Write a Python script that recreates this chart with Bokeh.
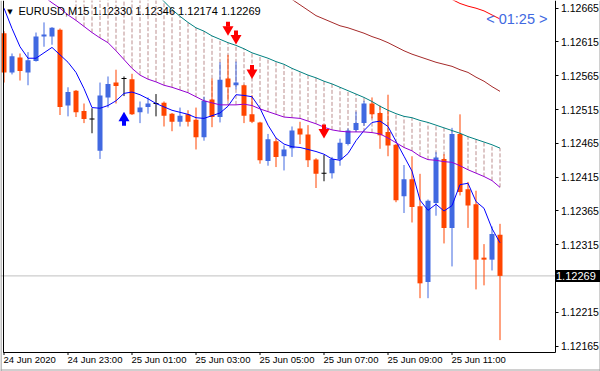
from bokeh.plotting import figure
from bokeh.models import (ColumnDataSource, FixedTicker, PrintfTickFormatter, Range1d,
                          Label, LabelSet, Span, LinearAxis)
from bokeh.core.properties import value
from bokeh.embed import file_html
from bokeh.resources import INLINE

# ---------------- data (EURUSD M15) ----------------
tick_bars = [0, 8, 16, 24, 32, 40, 48, 56]
tick_labels = ["24 Jun 2020", "24 Jun 23:00", "25 Jun 01:00", "25 Jun 03:00",
               "25 Jun 05:00", "25 Jun 07:00", "25 Jun 09:00", "25 Jun 11:00"]
price_ticks = [1.12165, 1.12215, 1.12315, 1.12365, 1.12415,
               1.12465, 1.12515, 1.12565, 1.12615, 1.12665]

open_ = [1.12628, 1.12570, 1.12592, 1.12570, 1.12587, 1.12623, 1.12623, 1.12633, 1.12521, 1.12543,
         1.12513, 1.12501, 1.12454, 1.12533, 1.12555, 1.12561, 1.12560, 1.12511, 1.12519, 1.12524,
         1.12525, 1.12509, 1.12497, 1.12508, 1.12500, 1.12474, 1.12530, 1.12504, 1.12561, 1.12551,
         1.12551, 1.12508, 1.12496, 1.12439, 1.12468, 1.12446, 1.12458, 1.12487, 1.12478, 1.12441,
         1.12421, 1.12421, 1.12441, 1.12464, 1.12485, 1.12495, 1.12524, 1.12510, 1.12482, 1.12463,
         1.12387, 1.12412, 1.12372, 1.12260, 1.12377, 1.12442, 1.12340, 1.12479, 1.12397, 1.12375,
         1.12296, 1.12293, 1.12330]
high = [1.12631, 1.12598, 1.12598, 1.12600, 1.12629, 1.12644, 1.12637, 1.12635, 1.12548, 1.12544,
        1.12524, 1.12517, 1.12555, 1.12564, 1.12574, 1.12564, 1.12568, 1.12527, 1.12533, 1.12538,
        1.12527, 1.12510, 1.12518, 1.12514, 1.12518, 1.12534, 1.12561, 1.12585, 1.12596, 1.12586,
        1.12552, 1.12536, 1.12497, 1.12479, 1.12473, 1.12462, 1.12490, 1.12497, 1.12492, 1.12443,
        1.12448, 1.12445, 1.12472, 1.12487, 1.12512, 1.12528, 1.12533, 1.12521, 1.12537, 1.12464,
        1.12433, 1.12446, 1.12420, 1.12382, 1.12452, 1.12449, 1.12488, 1.12508, 1.12408, 1.12395,
        1.12316, 1.12342, 1.12346]
low = [1.12555, 1.12567, 1.12558, 1.12551, 1.12586, 1.12608, 1.12611, 1.12507, 1.12505, 1.12504,
       1.12495, 1.12480, 1.12442, 1.12518, 1.12524, 1.12535, 1.12507, 1.12495, 1.12509, 1.12505,
       1.12490, 1.12483, 1.12490, 1.12490, 1.12456, 1.12469, 1.12489, 1.12496, 1.12528, 1.12545,
       1.12495, 1.12495, 1.12435, 1.12432, 1.12430, 1.12425, 1.12445, 1.12464, 1.12430, 1.12399,
       1.12409, 1.12413, 1.12432, 1.12462, 1.12482, 1.12491, 1.12502, 1.12457, 1.12446, 1.12378,
       1.12362, 1.12348, 1.12236, 1.12236, 1.12358, 1.12317, 1.12283, 1.12388, 1.12340, 1.12249,
       1.12255, 1.12277, 1.12174]
close = [1.12570, 1.12594, 1.12572, 1.12588, 1.12623, 1.12626, 1.12636, 1.12519, 1.12541, 1.12511,
         1.12501, 1.12501, 1.12536, 1.12553, 1.12550, 1.12561, 1.12508, 1.12518, 1.12524, 1.12524,
         1.12506, 1.12497, 1.12506, 1.12497, 1.12474, 1.12528, 1.12504, 1.12559, 1.12548, 1.12555,
         1.12506, 1.12497, 1.12440, 1.12471, 1.12445, 1.12456, 1.12484, 1.12478, 1.12440, 1.12420,
         1.12421, 1.12442, 1.12466, 1.12484, 1.12495, 1.12524, 1.12508, 1.12477, 1.12462, 1.12381,
         1.12412, 1.12371, 1.12258, 1.12380, 1.12444, 1.12340, 1.12479, 1.12393, 1.12373, 1.12293,
         1.12293, 1.12331, 1.12269]

ma_fast = [1.12665, 1.12635, 1.12608, 1.12591, 1.12591, 1.12599, 1.12607, 1.12596, 1.12585, 1.12570,
           1.12546, 1.12518, 1.12517, 1.12521, 1.12528, 1.12539, 1.12541, 1.12537, 1.12531, 1.12524,
           1.12519, 1.12514, 1.12511, 1.12508, 1.12503, 1.12502, 1.12506, 1.12510, 1.12520, 1.12537,
           1.12536, 1.12534, 1.12517, 1.12492, 1.12473, 1.12464, 1.12460, 1.12459, 1.12456, 1.12453,
           1.12449, 1.12442, 1.12440, 1.12450, 1.12469, 1.12484, 1.12496, 1.12498, 1.12490, 1.12468,
           1.12446, 1.12424, 1.12381, 1.12366, 1.12375, 1.12365, 1.12373, 1.12404, 1.12406, 1.12379,
           1.12369, 1.12339, 1.12318]

mid_bars = list(range(5, 63))
ma_mid = [1.12682, 1.12673, 1.12665, 1.12655, 1.12647, 1.12638, 1.12629, 1.12621, 1.12614, 1.12602,
          1.12589, 1.12576, 1.12566, 1.12560, 1.12556, 1.12551, 1.12548, 1.12544, 1.12540, 1.12534,
          1.12528, 1.12525, 1.12522, 1.12522, 1.12522, 1.12523, 1.12521, 1.12516, 1.12512, 1.12508,
          1.12504, 1.12503, 1.12502, 1.12498, 1.12494, 1.12489, 1.12485, 1.12483, 1.12482, 1.12482,
          1.12482, 1.12481, 1.12479, 1.12473, 1.12466, 1.12459, 1.12454, 1.12446, 1.12441, 1.12440,
          1.12438, 1.12437, 1.12432, 1.12426, 1.12421, 1.12416, 1.12410, 1.12400]

slow_bars = list(range(9, 63))
ma_slow = [1.12824, 1.12809, 1.12795, 1.12780, 1.12765, 1.12750, 1.12736, 1.12722, 1.12709, 1.12697,
           1.12687, 1.12675, 1.12663, 1.12653, 1.12644, 1.12636, 1.12631, 1.12624, 1.12619, 1.12614,
           1.12610, 1.12605, 1.12599, 1.12595, 1.12591, 1.12586, 1.12582, 1.12576, 1.12571, 1.12566,
           1.12562, 1.12557, 1.12553, 1.12548, 1.12543, 1.12538, 1.12533, 1.12527, 1.12520, 1.12514,
           1.12509, 1.12505, 1.12503, 1.12499, 1.12496, 1.12492, 1.12488, 1.12484, 1.12480, 1.12475,
           1.12471, 1.12467, 1.12463, 1.12458]

dark_bars = list(range(36, 63))
ma_dark = [1.12678, 1.12670, 1.12662, 1.12654, 1.12649, 1.12644, 1.12639, 1.12636, 1.12632, 1.12628,
           1.12623, 1.12619, 1.12614, 1.12608, 1.12602, 1.12597, 1.12593, 1.12589, 1.12585, 1.12582,
           1.12579, 1.12574, 1.12570, 1.12563, 1.12557, 1.12549, 1.12542]

red_bars = list(range(56, 63))
ma_red = [1.12678, 1.12672, 1.12668, 1.12665, 1.12661, 1.12655, 1.12649]

up_bars = [15]
up_tip = [1.12511]
down_bars = [28, 29, 31, 40]
down_tip = [1.12625, 1.12612, 1.12561, 1.12473]

symbol = "EURUSD,M15"
timer_text = "< 01:25 >"

# ---------------- layout / styles ----------------
BULL = "#4169E1"
BEAR = "#FF4500"
FONT = "Liberation Sans"
W, H = 600, 371
X0, X1 = -0.4375, 74.5625          # 8 px per bar over the full canvas
Y0, Y1 = 1.1212757, 1.1267639      # price span over the full canvas
PXP = (Y1 - Y0) / H                # price per pixel
LEFT_X, RIGHT_X = -0.125, 68.875   # chart window left / right edges
AXIS_Y = Y1 - 351.5 * PXP          # chart window bottom edge

bars = list(range(len(close)))
colors = ["black" if o == c else (BULL if c > o else BEAR) for o, c in zip(open_, close)]

candles = ColumnDataSource(dict(
    x=bars, high=high, low=low,
    top=[max(o, c) for o, c in zip(open_, close)],
    bottom=[min(o, c) for o, c in zip(open_, close)],
    color=colors))
doji_x = [b for b in bars if open_[b] == close[b]]
dojis = ColumnDataSource(dict(x=doji_x, y=[open_[b] for b in doji_x]))

p = figure(width=W, height=H, output_backend="svg", toolbar_location=None,
           x_range=Range1d(X0, X1), y_range=Range1d(Y0, Y1),
           x_axis_location=None, y_axis_location=None,
           min_border_left=0, min_border_right=0, min_border_top=0, min_border_bottom=0)
p.xgrid.visible = False
p.ygrid.visible = False
p.outline_line_color = None
p.background_fill_color = "white"
p.border_fill_color = "white"

# bid line
p.add_layout(Span(location=close[-1], dimension="width", line_color="#C0C0C0",
                  line_width=1, level="underlay"))

# histogram (dashed verticals between mid and slow MA)
hist = ColumnDataSource(dict(x=slow_bars,
                             y0=[ma_mid[mid_bars.index(b)] for b in slow_bars],
                             y1=ma_slow))
p.segment(x0="x", y0="y0", x1="x", y1="y1", source=hist, line_color="#BC8F8F",
          line_width=1, line_dash="4 2")

# candles
p.segment(x0="x", y0="low", x1="x", y1="high", source=candles, line_color="color", line_width=1)
p.vbar(x="x", top="top", bottom="bottom", width=0.625, source=candles,
       fill_color="color", line_color=None)
p.rect(x="x", y="y", width=0.625, height=1, height_units="screen", source=dojis,
       fill_color="black", line_color=None)

# moving averages
p.line(bars, ma_fast, line_color="#0000FF", line_width=1)
p.line(mid_bars, ma_mid, line_color="#9400D3", line_width=1)
p.line(slow_bars, ma_slow, line_color="#008080", line_width=1)
p.line(dark_bars, ma_dark, line_color="#A52A2A", line_width=1)
p.line(red_bars, ma_red, line_color="#FF0000", line_width=1)

# signal arrows (head + shaft)
p.rect(x=down_bars, y=[t + 11.0 * PXP for t in down_tip], width=4, height=5,
       width_units="screen", height_units="screen", fill_color="#FF0000", line_color=None)
p.scatter(x=down_bars, y=[t + 5.77 * PXP for t in down_tip], marker="inverted_triangle",
          size=11, fill_color="#FF0000", line_color=None)
p.rect(x=up_bars, y=[t - 11.0 * PXP for t in up_tip], width=4, height=5,
       width_units="screen", height_units="screen", fill_color="#0000FF", line_color=None)
p.scatter(x=up_bars, y=[t - 5.77 * PXP for t in up_tip], marker="triangle",
          size=11, fill_color="#0000FF", line_color=None)

# window frame: left edge, bottom edge with time ticks, right price axis
left_edge = LinearAxis(fixed_location=LEFT_X, bounds=(AXIS_Y, Y1), ticker=FixedTicker(ticks=[]),
                       major_tick_out=0, major_tick_in=0, minor_tick_out=0, minor_tick_in=0,
                       axis_line_color="black")
p.add_layout(left_edge, "left")

xa = LinearAxis(fixed_location=AXIS_Y, bounds=(LEFT_X, RIGHT_X), ticker=FixedTicker(ticks=[]),
                major_tick_out=0, major_tick_in=0, minor_tick_out=0, minor_tick_in=0,
                axis_line_color="black")
p.add_layout(xa, "below")
# time tick marks hanging below the bottom edge
p.segment(x0=tick_bars, y0=[AXIS_Y] * len(tick_bars), x1=tick_bars,
          y1=[AXIS_Y - 3 * PXP] * len(tick_bars), line_color="black", line_width=1)

ya = LinearAxis(fixed_location=RIGHT_X, bounds=(AXIS_Y, Y1), ticker=FixedTicker(ticks=price_ticks),
                formatter=PrintfTickFormatter(format="%.5f"),
                major_tick_out=3, major_tick_in=0, minor_tick_out=0, minor_tick_in=0,
                major_label_text_font=FONT, major_label_text_font_size="10.5px",
                major_label_text_color="black", major_label_standoff=3,
                axis_line_color="black", major_tick_line_color="black")
p.add_layout(ya, "right")

# outer window border
p.add_layout(Span(location=X0 + 0.5 / 8, dimension="height", line_color="#808080", line_width=1))
p.add_layout(Span(location=X1 - 0.5 / 8, dimension="height", line_color="#A0A0A0", line_width=1))
p.add_layout(Span(location=Y0 + 1.5 * PXP, dimension="width", line_color="#A0A0A0", line_width=1))

# time labels, left-aligned at their ticks
tl = ColumnDataSource(dict(x=tick_bars, y=[Y1 - 359 * PXP] * len(tick_bars), text=tick_labels))
p.add_layout(LabelSet(x="x", y="y", text="text", source=tl, text_font=value(FONT),
                      text_font_size="9.5px", text_color="black", text_align="left",
                      text_baseline="middle", x_offset=-0.5))

# current price tag on the axis
p.add_layout(Label(x=RIGHT_X + 0.125, y=close[-1], text=f"  {close[-1]:.5f}  ", text_font=FONT,
                   text_font_size="11px", text_color="white", background_fill_color="black",
                   text_align="left", text_baseline="middle"))

# header
p.add_layout(Label(x=0.75, y=Y1 - 11 * PXP, text="\u25bc", text_font="DejaVu Sans",
                   text_font_size="7px", text_color="black", text_align="center",
                   text_baseline="middle"))
p.add_layout(Label(x=1.8125, y=Y1 - 10.7 * PXP,
                   text=f"{symbol} {open_[-1]:.5f} {high[-1]:.5f} {low[-1]:.5f} {close[-1]:.5f}",
                   text_font=FONT, text_font_size="11px", text_color="black",
                   text_align="left", text_baseline="middle"))

# bar timer
p.add_layout(Label(x=60.275, y=Y1 - 18.7 * PXP, text=timer_text, text_font=FONT,
                   text_font_size="14.5px", text_color="#4169E1", text_align="left",
                   text_baseline="middle"))

open("out.html", "w").write(file_html(p, INLINE))
